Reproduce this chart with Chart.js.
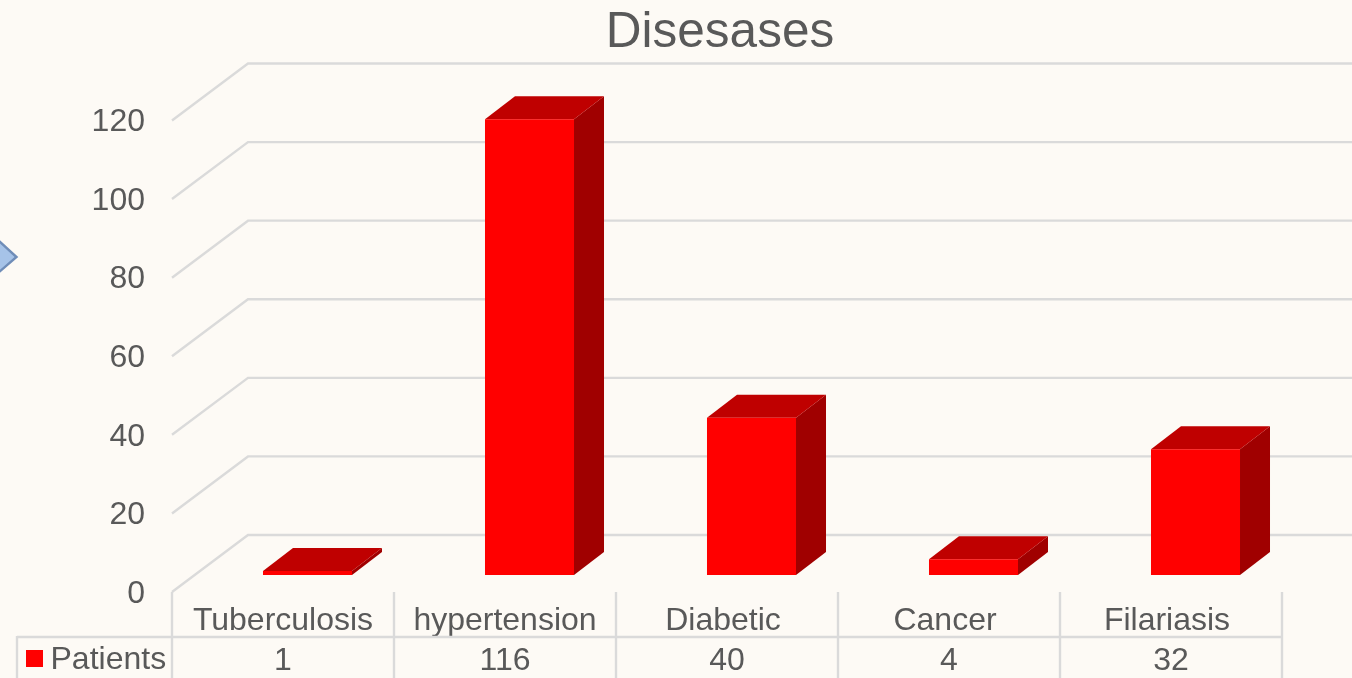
<!DOCTYPE html>
<html>
<head>
<meta charset="utf-8">
<style>html,body{margin:0;padding:0;background:#FDFAF5;overflow:hidden}canvas{display:block}</style>
<script src="https://cdn.jsdelivr.net/npm/chart.js@4"></script>
</head>
<body>
<canvas id="c" width="1352" height="678"></canvas>
<script>
const categories = ["Tuberculosis", "hypertension", "Diabetic", "Cancer", "Filariasis"];
const patients = [1, 116, 40, 4, 32];
const seriesName = "Patients";
const chartTitle = "Disesases";

const FONT = '"Liberation Sans", Arial, sans-serif';
const TEXT = '#595959', GRID = '#DADADA';
const WALL = {dx: 76, dy: -57};      // depth of the floor / side wall
const BAR_OFFSET = {dx: 24.5, dy: -17}; // bars sit midway in depth
const BAR_DEPTH = {dx: 30, dy: -23};

function line(ctx, x1, y1, x2, y2) {
  ctx.beginPath(); ctx.moveTo(x1, y1); ctx.lineTo(x2, y2); ctx.stroke();
}

const frame = {
  id: 'frame',
  afterLayout(chart) {
    // title is centred over the plot including its depth, not the page
    chart.titleBlock.left = 88; chart.titleBlock.right = 1352;
    // the last three category labels sit slightly left of their table columns
    chart.scales.x.getLabelItems().forEach((item, i) => {
      if (i >= 2) item.options.translation[0] -= 4;
    });
  },
  beforeDraw(chart) {
    const {ctx, width, height} = chart;
    ctx.save();
    ctx.fillStyle = '#FDFAF5'; ctx.fillRect(0, 0, width, height);
    // part of a neighbouring slide shape at the left edge
    ctx.beginPath(); ctx.moveTo(-2, 240); ctx.lineTo(16.5, 257); ctx.lineTo(-2, 273); ctx.closePath();
    ctx.fillStyle = '#A6C3E8'; ctx.fill();
    ctx.strokeStyle = '#6F8DB8'; ctx.lineWidth = 2.4; ctx.stroke();
    ctx.restore();
  },
  beforeDatasetsDraw(chart) {
    const {ctx, scales: {x, y}, chartArea: a, width} = chart;
    ctx.save();
    ctx.strokeStyle = GRID; ctx.lineWidth = 2.4;
    y.ticks.forEach(t => {
      const py = y.getPixelForValue(t.value);
      ctx.beginPath();
      ctx.moveTo(a.left, py);
      ctx.lineTo(a.left + WALL.dx, py + WALL.dy);
      ctx.lineTo(width + 10, py + WALL.dy);
      ctx.stroke();
    });
    // data table
    const band = x.getPixelForTick(1) - x.getPixelForTick(0);
    const rowY = 637;
    categories.forEach((_, i) => {
      const e = x.getPixelForTick(i) - band / 2;
      line(ctx, e, a.bottom, e, 680);
    });
    const last = x.getPixelForTick(categories.length - 1) + band / 2;
    line(ctx, last, a.bottom, last, 680);
    line(ctx, 17, rowY, last + 1, rowY);
    line(ctx, 17, rowY - 1, 17, 680);
    ctx.fillStyle = TEXT;
    ctx.font = '32px ' + FONT;
    ctx.textBaseline = 'middle'; ctx.textAlign = 'center';
    patients.forEach((v, i) => ctx.fillText(String(v), x.getPixelForTick(i), 661));
    ctx.textAlign = 'left';
    ctx.fillText(seriesName, 50.5, 660);
    ctx.fillStyle = chart.data.datasets[0].backgroundColor;
    ctx.fillRect(26, 650, 17, 17);
    ctx.restore();
  },
  beforeDatasetDraw(chart, args) {
    const {ctx} = chart;
    ctx.save();
    ctx.translate(BAR_OFFSET.dx, BAR_OFFSET.dy);
    const {dx, dy} = BAR_DEPTH;
    args.meta.data.forEach(b => {
      const l = b.x - b.width / 2, r = b.x + b.width / 2, t = b.y, bot = b.base;
      ctx.fillStyle = '#A00000';
      ctx.beginPath();
      ctx.moveTo(r, t); ctx.lineTo(r + dx, t + dy); ctx.lineTo(r + dx, bot + dy); ctx.lineTo(r, bot);
      ctx.closePath(); ctx.fill();
      ctx.fillStyle = '#BF0000';
      ctx.beginPath();
      ctx.moveTo(l, t); ctx.lineTo(l + dx, t + dy); ctx.lineTo(r + dx, t + dy); ctx.lineTo(r, t);
      ctx.closePath(); ctx.fill();
    });
  },
  afterDatasetDraw(chart) { chart.ctx.restore(); }
};

new Chart(document.getElementById('c'), {
  type: 'bar',
  data: {
    labels: categories,
    datasets: [{
      label: seriesName,
      data: patients,
      backgroundColor: '#FF0000',
      borderWidth: 0,
      categoryPercentage: 1,
      barPercentage: 0.401
    }]
  },
  plugins: [frame],
  options: {
    responsive: false,
    animation: false,
    layout: {padding: {left: 0, right: 70, top: 0, bottom: 0}},
    plugins: {
      legend: {display: false},
      tooltip: {enabled: false},
      title: {
        display: true,
        text: chartTitle,
        color: TEXT,
        font: {family: FONT, size: 49.5, weight: 'normal', lineHeight: 1.2},
        padding: {top: 4, bottom: 57.1}
      }
    },
    scales: {
      x: {
        grid: {display: false, drawTicks: false},
        border: {display: false},
        afterFit(s) { s.height = 86; },
        ticks: {
          color: TEXT, padding: 10, maxRotation: 0, autoSkip: false,
          font: {family: FONT, size: 32}
        }
      },
      y: {
        min: 0, max: 120,
        grid: {display: false, drawTicks: false},
        border: {display: false},
        afterFit(s) { s.width = 172; },
        ticks: {
          stepSize: 20, color: TEXT, padding: 27, labelOffset: 2,
          font: {family: FONT, size: 32}
        }
      }
    }
  }
});
</script>
</body>
</html>
